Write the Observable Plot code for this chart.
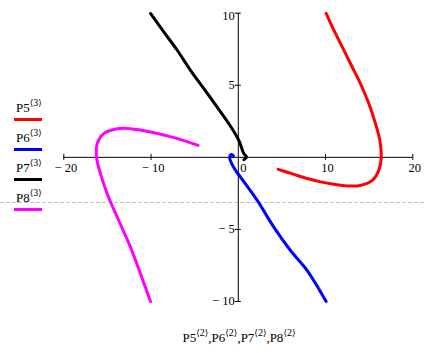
<!DOCTYPE html>
<html><head><meta charset="utf-8">
<script src="https://cdn.jsdelivr.net/npm/d3@7"></script>
<script src="https://cdn.jsdelivr.net/npm/@observablehq/plot@0.6"></script>
<style>
body{margin:0;background:#fff;}
#wrap{position:relative;width:425px;height:353px;overflow:hidden;font-family:"Liberation Serif","Times New Roman",serif;}
#wrap svg.overlay{position:absolute;left:0;top:0;}
#chart{position:absolute;left:0;top:0;}
.leg{position:absolute;left:16px;font-size:13px;line-height:13px;color:#000;white-space:nowrap;}
.sup{position:relative;top:-6px;font-size:10px;}
.br{font-family:"DejaVu Serif","DejaVu Sans",serif;font-size:9px;}
.sw{position:absolute;left:14px;width:28px;height:3px;}
#xlab{position:absolute;left:0;width:478px;text-align:center;font-size:13px;line-height:13px;top:331px;white-space:nowrap;}
</style>
</head><body>
<div id="wrap">
  <svg class="overlay" width="425" height="353"><line x1="0" x2="425" y1="202.5" y2="202.5" stroke="#c4c4c4" stroke-width="1" stroke-dasharray="4,2"/></svg>
  <div id="chart"></div>
</div>
<script>
const series = ["P5", "P6", "P7", "P8"];
const colors = ["#ff0000", "#0000ff", "#000000", "#ff00ff"];
const legendIndex = "3";
const axisIndex = "2";

const p5x = [10.07, 10.95, 11.91, 13.05, 14.0, 14.96, 15.72, 16.22, 16.38, 16.1, 15.35, 14.0, 12.48, 10.95, 9.42, 7.9, 6.36, 4.57];
const p5y = [9.98, 8.82, 7.66, 6.27, 5.12, 3.73, 2.34, 1.18, 0.02, -0.9, -1.6, -1.95, -1.98, -1.87, -1.7, -1.47, -1.18, -0.83];

const p6x = [-0.55, -0.8, -0.98, -0.75, -0.31, 0.25, 2.17, 4.07, 5.98, 7.9, 10.07];
const p6y = [0.1, 0.2, -0.05, -0.45, -0.9, -1.37, -2.99, -4.84, -6.46, -7.85, -10.0];

const p7x = [-10.06, -8.54, -7.0, -5.48, -3.95, -2.42, -1.09, 0.06, 0.63, 0.94, 0.63];
const p7y = [9.98, 8.7, 7.43, 6.04, 4.77, 3.49, 2.34, 1.18, 0.26, 0.02, -0.16];

const p8x = [-10.06, -11.21, -12.36, -13.7, -15.03, -15.8, -16.25, -16.17, -15.42, -13.88, -12.36, -10.06, -7.39, -4.6];
const p8y = [-10.0, -8.08, -6.23, -4.38, -2.52, -1.13, 0.02, 0.95, 1.65, 1.99, 1.99, 1.76, 1.37, 0.83];

const xDomain = [-20, 20];
const yDomain = [-10, 10];
const xTicks = [-20, -10, 10, 20];
const yTicks = [-10, -5, 5, 10];
const xTickLabels = ["\u2212 20", "\u2212 10", "10", "20"];
const zeroLabel = "0";
const yTickLabels = ["\u2212 10", "\u2212 5", "5", "10"];

const pairs = [[p5x, p5y], [p6x, p6y], [p7x, p7y], [p8x, p8y]];
const rows = [];
pairs.forEach(([xs, ys], i) => xs.forEach((x, j) => rows.push({s: series[i], x, y: ys[j]})));

const xLab = xTicks.map((v, i) => ({v, t: xTickLabels[i]}));
const yLab = yTicks.map((v, i) => ({v, t: yTickLabels[i]}));
const yMid = yLab.filter(d => Math.abs(d.v) < yDomain[1]);
const yTop = yLab.filter(d => d.v === yDomain[1]);
const yBot = yLab.filter(d => d.v === yDomain[0]);

const font = '"Liberation Serif","Times New Roman",serif';
const chart = Plot.plot({
  width: 425, height: 353,
  marginLeft: 63.3, marginRight: 12.7, marginTop: 12.7, marginBottom: 52,
  x: {domain: xDomain, axis: null},
  y: {domain: yDomain, axis: null},
  color: {domain: series, range: colors},
  style: {fontFamily: font, fontSize: "12.5px", background: "transparent", color: "#000"},
  marks: [
    Plot.ruleY([0], {x1: xDomain[0], x2: xDomain[1], stroke: "#000"}),
    Plot.ruleX([0], {y1: yDomain[0], y2: yDomain[1], stroke: "#000"}),
    Plot.ruleX(xTicks, {x: d => d, y1: 0, y2: 0, insetTop: -3, insetBottom: -3, stroke: "#000"}),
    Plot.ruleY(yTicks, {y: d => d, x1: 0, x2: 0, insetLeft: -3, insetRight: -3, stroke: "#000"}),
    Plot.line(rows, {x: "x", y: "y", z: "s", stroke: "s", strokeWidth: 3, curve: "catmull-rom", strokeLinejoin: "round", strokeLinecap: "round"}),
    Plot.text(xLab, {x: "v", y: () => 0, text: "t", dy: 11, dx: 2, fill: "#000"}),
    Plot.text([zeroLabel], {x: () => 0, y: () => 0, text: d => d, dy: 11, dx: 5, fill: "#000"}),
    Plot.text(yMid, {x: () => 0, y: "v", text: "t", textAnchor: "end", dx: -3.5, fill: "#000"}),
    Plot.text(yTop, {x: () => 0, y: "v", text: "t", textAnchor: "end", dx: -3.5, dy: 3, fill: "#000"}),
    Plot.text(yBot, {x: () => 0, y: "v", text: "t", textAnchor: "end", dx: -3.5, dy: -1, fill: "#000"})
  ]
});
document.getElementById("chart").appendChild(chart);

const supHtml = idx => '<span class="sup"><span class="br">\u27E8</span>' + idx + '<span class="br">\u27E9</span></span>';
const wrap = document.getElementById("wrap");
series.forEach((s, i) => {
  const t = document.createElement("div");
  t.className = "leg";
  t.style.top = (101 + 30 * i) + "px";
  t.innerHTML = s + supHtml(legendIndex);
  wrap.appendChild(t);
  const sw = document.createElement("div");
  sw.className = "sw";
  sw.style.top = (118 + 30 * i) + "px";
  sw.style.background = colors[i];
  wrap.appendChild(sw);
});
const xl = document.createElement("div");
xl.id = "xlab";
xl.innerHTML = series.map(s => s + supHtml(axisIndex)).join(",");
wrap.appendChild(xl);
</script>
</body></html>
